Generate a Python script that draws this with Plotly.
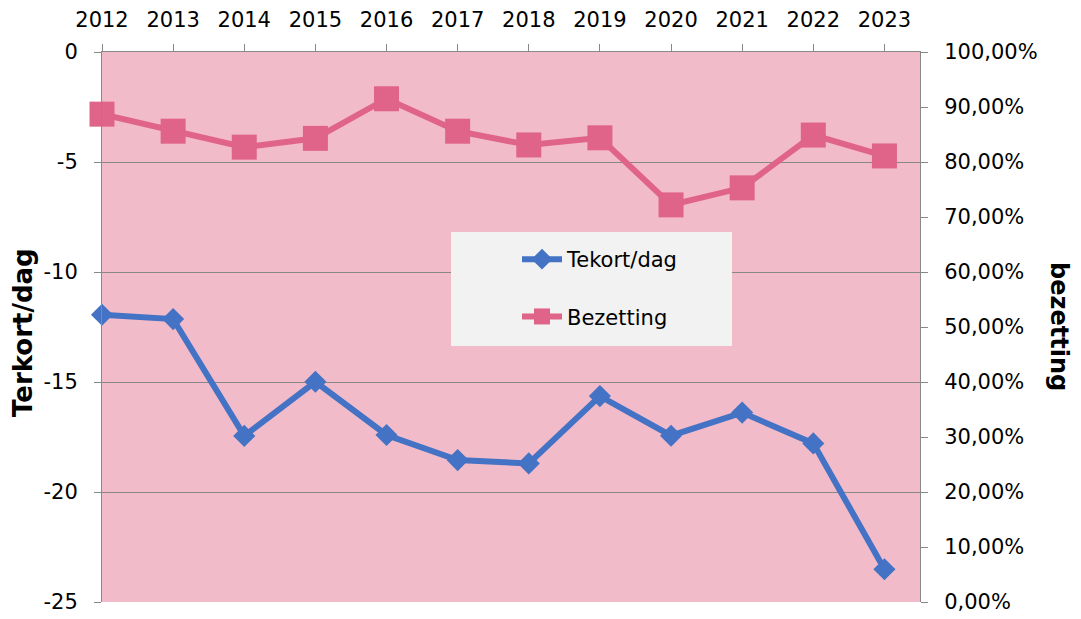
import plotly.graph_objects as go

years = [2012, 2013, 2014, 2015, 2016, 2017, 2018, 2019, 2020, 2021, 2022, 2023]
tekort = [-11.94, -12.14, -17.45, -14.99, -17.41, -18.55, -18.7, -15.64, -17.44, -16.39, -17.79, -23.51]
bezetting = [0.887, 0.856, 0.827, 0.843, 0.915, 0.856, 0.831, 0.844, 0.722, 0.753, 0.849, 0.811]

left_tickvals = [-25, -20, -15, -10, -5, 0]
left_ticktext = ["-25", "-20", "-15", "-10", "-5", "0"]

BLUE = "#4472C4"
PINK = "#E0638A"
GRID = "#888888"
FONT = "DejaVu Sans"

fig = go.Figure()
fig.add_trace(go.Scatter(
    x=years, y=tekort, name="Tekort/dag", mode="lines+markers",
    line=dict(color=BLUE, width=6),
    marker=dict(symbol="diamond", size=17, color=BLUE),
    cliponaxis=False, legendgroup="a", yaxis="y",
))
fig.add_trace(go.Scatter(
    x=years, y=bezetting, name="Bezetting", mode="lines+markers",
    line=dict(color=PINK, width=6),
    marker=dict(symbol="square", size=25, color=PINK),
    cliponaxis=False, legendgroup="b", yaxis="y2",
))

# legend background box
fig.add_shape(type="rect", xref="paper", yref="paper",
              x0=(451 - 102) / 818, x1=(732 - 102) / 818,
              y0=1 - (346 - 52) / 550, y1=1 - (232 - 52) / 550,
              fillcolor="#F2F2F2", line=dict(width=0), layer="above")

fig.update_layout(
    width=1081, height=619,
    margin=dict(l=102, r=161, t=52, b=17, autoexpand=False),
    paper_bgcolor="white", plot_bgcolor="#F2BBCA",
    separators=",.",
    font=dict(family=FONT, size=21, color="black"),
    showlegend=True,
    legend=dict(x=(517 - 102) / 818, y=1 - (239 - 52) / 550,
                xanchor="left", yanchor="top",
                bgcolor="rgba(0,0,0,0)", font=dict(size=21, family=FONT),
                tracegroupgap=27, itemwidth=40),
    xaxis=dict(side="top", range=[2012, 2023.5], tickmode="array", tickvals=years,
               ticktext=[str(y) for y in years], automargin=False,
               showgrid=False, zeroline=False, showline=True, linecolor=GRID, linewidth=1,
               ticks="outside", ticklen=7, tickcolor=GRID, ticklabelstandoff=9),
    yaxis=dict(range=[-25, 0], tickmode="array", tickvals=left_tickvals, ticktext=left_ticktext,
               automargin=False,
               showgrid=True, gridcolor=GRID, gridwidth=1, zeroline=False,
               showline=True, linecolor=GRID, linewidth=1,
               ticks="outside", ticklen=7, tickcolor=GRID, ticklabelstandoff=12),
    yaxis2=dict(range=[0, 1], overlaying="y", side="right", dtick=0.1, tickformat=".2%",
                automargin=False,
                showgrid=False, zeroline=False, showline=True, linecolor=GRID, linewidth=1,
                ticks="outside", ticklen=7, tickcolor=GRID, ticklabelstandoff=12),
    annotations=[
        dict(text="<b>Terkort/dag</b>", xref="paper", yref="paper",
             x=(23 - 102) / 818, y=1 - (333 - 52) / 550, textangle=-90, showarrow=False,
             font=dict(size=26, family=FONT), xanchor="center", yanchor="middle"),
        dict(text="<b>bezetting</b>", xref="paper", yref="paper",
             x=(1059 - 102) / 818, y=1 - (326 - 52) / 550, textangle=90, showarrow=False,
             font=dict(size=24, family=FONT), xanchor="center", yanchor="middle"),
    ],
)

fig.write_html("out.html", config={"displayModeBar": False},
               post_script="document.body.style.margin='0';")
